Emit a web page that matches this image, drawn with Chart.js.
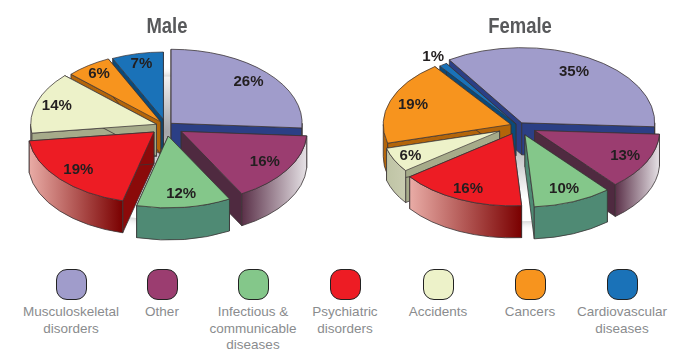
<!DOCTYPE html>
<html>
<head>
<meta charset="utf-8">
<title>Male / Female</title>
<script src="https://cdn.jsdelivr.net/npm/chart.js@4/dist/chart.umd.min.js"></script>
<style>
  html, body { margin: 0; padding: 0; background: #fff; overflow: hidden; }
  #page { position: relative; width: 681px; height: 362px; }
  canvas { position: absolute; top: 0; }
  .head { position: absolute; top: 13px; width: 120px; margin-left: -60px; text-align: center;
          font: bold 22px/26px "Liberation Sans", sans-serif; color: #58595b; transform: scaleX(0.84); }
  .swatch { position: absolute; top: 269px; width: 29px; height: 29px; margin-left: -15px;
            border: 1px solid #222; border-radius: 11px; }
  .name { position: absolute; top: 304px; width: 106px; margin-left: -53px; text-align: center;
          font: 13.5px/16.7px "Liberation Sans", sans-serif; color: #8a8c8e; }
</style>
</head>
<body>
<div id="page">
  <canvas id="male" width="340" height="252" style="left:0"></canvas>
  <canvas id="female" width="341" height="252" style="left:340px"></canvas>
  <div class="head" style="left:167px">Male</div>
  <div class="head" style="left:520px">Female</div>
</div>
<script>
const categories = ['Musculoskeletal disorders', 'Other', 'Infectious & communicable diseases',
  'Psychiatric disorders', 'Accidents', 'Cancers', 'Cardiovascular diseases'];
const maleValues = [26, 16, 12, 19, 14, 6, 7];
const femaleValues = [35, 13, 10, 16, 6, 19, 1];

// how many px each slice is pulled out, how much it is shrunk, where its label sits
const maleOffsets = [7, 18, 18, 16, 10, 9, 12];
const femaleOffsets = [6.5, 18, 17, 15, 21, 8, 4.5];
const maleShrink = [1, 0.96, 0.97, 0.96, 0.96, 0.94, 0.91];
const femaleShrink = [1, 0.94, 0.96, 0.96, 0.88, 0.96, 0.96];
const maleLabelAt = [0.81, 0.756, 0.786, 0.77, 0.8, 0.8, 0.77];
const femaleLabelAt = [0.786, 0.76, 0.78, 0.8, 0.745, 0.78, 1.09];

const colors = ['#a09ccb', '#9b3d70', '#84c78a', '#ed1c24', '#edf2c9', '#f7941e', '#1a72b8'];
const sideColors = ['#2b3f85', '#4f2a40', '#4f8a74', '#8b0a0a', '#a6ab8a', '#b3650a', '#0a4a7a'];
// outer wall, left and right end of the gradient
const wallLeft = ['#2b3f85', '#5a3048', '#4f8a74', '#e9aca6', '#bfc4a5', '#b3650a', '#0a4a7a'];
const wallRight = ['#2b3f85', '#e6e2e6', '#4f8a74', '#7a0000', '#c9ccb0', '#b3650a', '#0a4a7a'];
const legendX = [71, 162, 253, 345, 438, 530, 622];

const TILT = 0.565;
const DEPTH = 32;

// draws the slices back to front with walls under them, so the flat pie looks 3D
const pie3d = {
  id: 'pie3d',
  beforeDatasetDraw(chart, args, opts) {
    const ctx = chart.ctx;
    const arcs = chart.getDatasetMeta(0).data;
    const cx = arcs[0].x, cy = arcs[0].y, R0 = arcs[0].outerRadius;

    // soft shadow on the page
    ctx.save();
    const glow = ctx.createRadialGradient(cx, cy + 6, 0, cx, cy + 6, R0 * 0.5);
    glow.addColorStop(0, '#a4a4a8');
    glow.addColorStop(1, '#ffffff');
    ctx.shadowColor = 'rgba(0,0,0,0.3)';
    ctx.shadowBlur = 9;
    ctx.fillStyle = glow;
    ctx.beginPath();
    ctx.ellipse(cx, cy + DEPTH * 0.7, R0 * 0.97, R0 * 0.97 * TILT, 0, 0, Math.PI * 2);
    ctx.fill();
    ctx.restore();

    const midY = a => Math.sin((a.startAngle + a.endAngle) / 2);
    const order = arcs.map((a, i) => i).sort((p, q) => midY(arcs[p]) - midY(arcs[q]));

    order.forEach(i => {
      const arc = arcs[i];
      const mid = (arc.startAngle + arc.endAngle) / 2;
      const off = opts.offsets[i];
      const R = R0 * opts.shrink[i];
      const ax = cx + Math.cos(mid) * off;
      const ay = cy + Math.sin(mid) * off * TILT;
      const edge = ang => [ax + Math.cos(ang) * R, ay + Math.sin(ang) * R * TILT];

      ctx.save();
      ctx.strokeStyle = '#3a3335';
      ctx.lineWidth = 0.8;
      ctx.lineJoin = 'round';

      // the two straight walls
      [arc.startAngle, arc.endAngle].forEach(ang => {
        const [ex, ey] = edge(ang);
        ctx.beginPath();
        ctx.moveTo(ax, ay);
        ctx.lineTo(ex, ey);
        ctx.lineTo(ex, ey + DEPTH);
        ctx.lineTo(ax, ay + DEPTH);
        ctx.closePath();
        ctx.fillStyle = sideColors[i];
        ctx.fill();
        ctx.stroke();
      });

      // curved outer wall, only the part facing the viewer
      const a1 = Math.max(arc.startAngle, 0);
      const a2 = Math.min(arc.endAngle, Math.PI);
      if (a2 > a1) {
        const x1 = Math.min(edge(a1)[0], edge(a2)[0]);
        const x2 = Math.max(edge(a1)[0], edge(a2)[0]);
        const grad = ctx.createLinearGradient(x1, 0, x2, 0);
        grad.addColorStop(0, wallLeft[i]);
        grad.addColorStop(1, wallRight[i]);
        ctx.beginPath();
        ctx.ellipse(ax, ay, R, R * TILT, 0, a1, a2);
        ctx.ellipse(ax, ay + DEPTH, R, R * TILT, 0, a2, a1, true);
        ctx.closePath();
        ctx.fillStyle = grad;
        ctx.fill();
        ctx.stroke();
      }
      ctx.restore();

      // top of the slice, the library draws it inside the squashed space
      ctx.save();
      ctx.translate(ax, ay);
      ctx.scale(opts.shrink[i], TILT * opts.shrink[i]);
      ctx.translate(-cx, -cy);
      arc.draw(ctx);
      ctx.restore();
    });
    return false;
  },
  afterDatasetsDraw(chart, args, opts) {
    const ctx = chart.ctx;
    const values = chart.data.datasets[0].data;
    ctx.save();
    ctx.font = 'bold 15px "Liberation Sans", sans-serif';
    ctx.fillStyle = '#231f20';
    ctx.textAlign = 'center';
    ctx.textBaseline = 'middle';
    chart.getDatasetMeta(0).data.forEach((arc, i) => {
      const mid = (arc.startAngle + arc.endAngle) / 2;
      const r = opts.offsets[i] + arc.outerRadius * opts.labelAt[i];
      ctx.fillText(values[i] + '%', arc.x + Math.cos(mid) * r, arc.y + Math.sin(mid) * r * TILT);
    });
    ctx.restore();
  }
};

function makePie(id, values, offsets, shrink, labelAt, radius, rotation, padLeft, padRight) {
  return new Chart(document.getElementById(id), {
    type: 'pie',
    data: {
      labels: categories,
      datasets: [{
        data: values,
        backgroundColor: colors,
        borderColor: '#3a3335',
        borderWidth: 1
      }]
    },
    options: {
      responsive: false,
      animation: false,
      radius: radius,
      rotation: rotation,
      layout: { padding: { left: padLeft, right: padRight, top: 0, bottom: 0 } },
      plugins: {
        legend: { display: false },
        tooltip: { enabled: false },
        pie3d: { offsets: offsets, shrink: shrink, labelAt: labelAt }
      }
    },
    plugins: [pie3d]
  });
}

makePie('male', maleValues, maleOffsets, maleShrink, maleLabelAt, 131, 0, 0, 8);
makePie('female', femaleValues, femaleOffsets, femaleShrink, femaleLabelAt, 133, -33, 16, 0);

// legend under the two pies
const page = document.getElementById('page');
categories.forEach((name, i) => {
  const swatch = document.createElement('div');
  swatch.className = 'swatch';
  swatch.style.left = legendX[i] + 'px';
  swatch.style.background = colors[i];
  page.appendChild(swatch);
  const label = document.createElement('div');
  label.className = 'name';
  label.style.left = legendX[i] + 'px';
  label.textContent = name;
  page.appendChild(label);
});
</script>
</body>
</html>
